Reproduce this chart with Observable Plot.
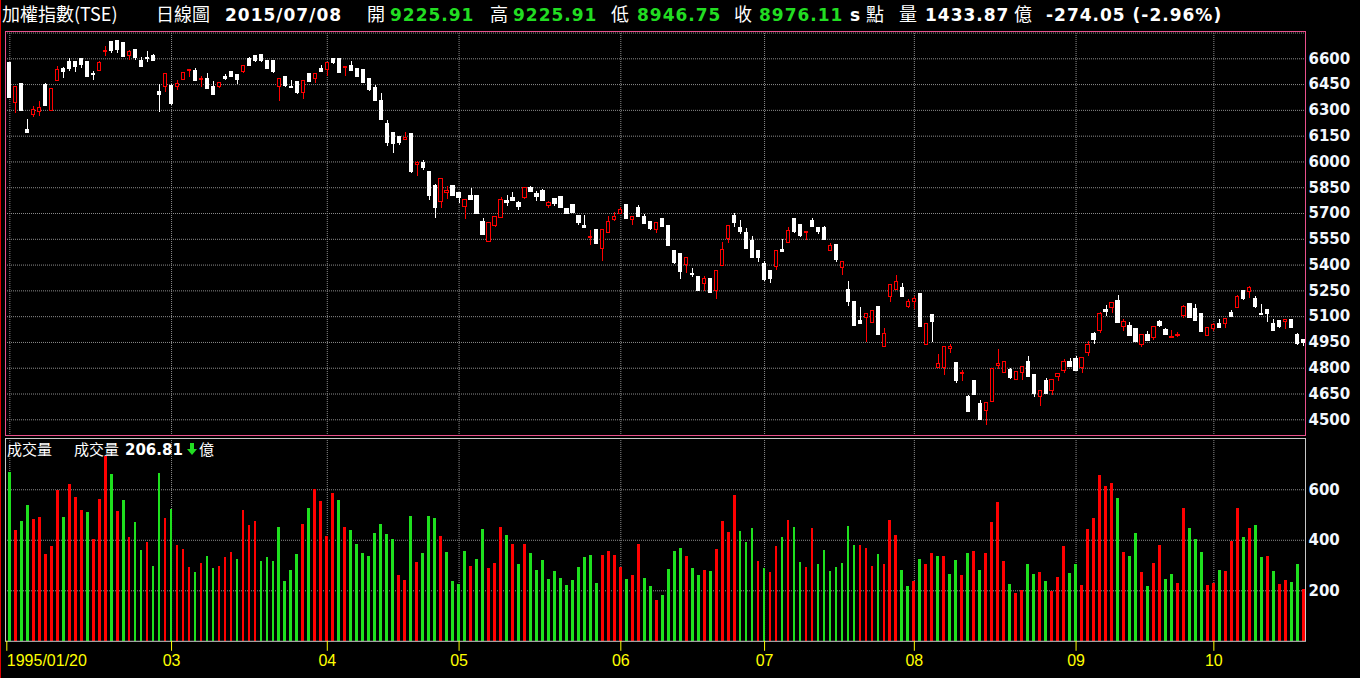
<!DOCTYPE html>
<html>
<head>
<meta charset="utf-8">
<script src="https://cdn.jsdelivr.net/npm/d3@7"></script>
<script src="https://cdn.jsdelivr.net/npm/@observablehq/plot@0.6"></script>
<style>
html,body{margin:0;padding:0;background:#000;width:1360px;height:678px;overflow:hidden;}
#wrap{position:relative;width:1360px;height:678px;background:#000;}
#wrap svg{position:absolute;left:0;}
#redline{position:absolute;left:0;top:0;width:1px;height:678px;background:#e00000;}
</style>
</head>
<body>
<div id="wrap"><div id="redline"></div></div>
<script>
// ---------------- DATA ----------------
const open = [6573,6343,6451,6184,6271,6288,6445,6296,6472,6540,6581,6579,6596,6579,6509,6528,6641,6695,6701,6689,6619,6654,6585,6604,6619,6405,6436,6439,6436,6476,6528,6530,6478,6482,6434,6436,6497,6521,6503,6521,6600,6619,6625,6585,6590,6436,6495,6436,6463,6403,6509,6482,6540,6534,
6600,6596,6548,6561,6538,6532,6480,6428,6352,6219,6167,6143,6130,6161,5985,5992,5940,5861,5768,5820,5859,5822,5739,5801,5801,5650,5536,5629,5675,5774,5789,5760,5791,5851,5816,5830,5745,5783,5795,5725,5749,5685,5627,5557,5603,5495,5588,5663,5700,5749,5661,5731,5681,5650,5607,5667,
5626,5481,5463,5403,5347,5333,5290,5321,5249,5393,5549,5684,5615,5585,5539,5481,5405,5368,5389,5490,5531,5671,5632,5587,5655,5615,5615,5481,5516,5383,5253,5183,5073,5094,5063,5154,4923,5215,5255,5265,5154,5185,5230,4935,5112,4801,4801,4912,4828,4766,4632,4723,4591,4554,4605,
4813,4772,4788,4731,4772,4834,4758,4633,4724,4670,4749,4784,4834,4851,4801,4886,4997,5016,5136,5149,5194,5039,5043,5026,4937,4991,4973,5070,5024,4975,4989,5101,5171,5142,5113,4987,5026,5060,5057,5120,5153,5252,5242,5200,5118,5136,5060,5072,5068,5078,4991,4966];
const high = [6580,6434,6451,6248,6323,6352,6455,6422,6555,6550,6600,6579,6600,6579,6526,6584,6672,6695,6701,6689,6648,6654,6610,6643,6625,6451,6509,6449,6472,6519,6532,6542,6496,6515,6468,6463,6509,6526,6503,6563,6608,6619,6625,6585,6590,6480,6495,6474,6468,6472,6509,6513,6563,6573,
6600,6596,6555,6585,6542,6532,6480,6447,6401,6242,6167,6143,6172,6161,6002,6010,5940,5867,5898,5857,5865,5822,5776,5847,5801,5673,5642,5677,5795,5803,5824,5772,5849,5859,5830,5841,5768,5789,5801,5731,5749,5685,5690,5603,5603,5603,5681,5706,5733,5749,5681,5749,5696,5650,5644,5667,
5626,5486,5463,5444,5382,5333,5335,5321,5364,5533,5630,5698,5661,5615,5568,5481,5422,5368,5484,5549,5618,5671,5632,5595,5671,5615,5626,5527,5516,5420,5306,5189,5154,5117,5135,5154,5032,5282,5341,5294,5201,5220,5230,5055,5112,4880,4921,4939,4834,4787,4642,4723,4612,4595,4793,
4907,4840,4797,4780,4809,4869,4764,4670,4741,4733,4768,4849,4857,4871,4861,4954,5008,5124,5165,5180,5223,5082,5066,5029,4995,5014,5041,5078,5029,5020,5008,5163,5171,5171,5113,5035,5058,5084,5089,5136,5221,5252,5275,5217,5173,5136,5082,5072,5082,5084,5002,4966];
const low = [6370,6279,6294,6168,6261,6265,6325,6296,6472,6488,6528,6519,6546,6492,6476,6528,6615,6633,6633,6608,6592,6592,6552,6581,6586,6285,6406,6329,6416,6476,6494,6470,6434,6426,6387,6430,6472,6492,6451,6517,6561,6581,6581,6538,6517,6354,6434,6430,6395,6366,6465,6459,6523,6499,
6567,6517,6499,6528,6494,6455,6412,6354,6244,6087,6052,6093,6122,5930,5913,5948,5774,5669,5727,5783,5803,5758,5663,5780,5698,5571,5536,5617,5675,5739,5774,5716,5783,5826,5772,5774,5727,5739,5733,5692,5702,5629,5617,5512,5524,5420,5588,5652,5700,5669,5629,5681,5640,5603,5586,5623,
5512,5405,5319,5349,5325,5249,5244,5238,5197,5393,5527,5616,5576,5494,5436,5413,5302,5290,5366,5477,5531,5582,5560,5541,5622,5576,5547,5477,5416,5337,5162,5046,5057,4947,5063,4993,4923,5180,5255,5215,5150,5141,5040,4935,4950,4801,4758,4884,4713,4723,4543,4644,4496,4467,4605,
4791,4772,4737,4731,4731,4749,4627,4580,4650,4639,4720,4772,4807,4782,4772,4871,4940,5004,5103,5116,5062,5016,4987,4952,4919,4958,4964,5037,4989,4975,4981,5087,5091,5074,5010,4987,5016,5033,5033,5097,5149,5194,5207,5149,5109,5066,5014,5031,5027,5033,4935,4929];
const close = [6372,6434,6294,6168,6300,6312,6325,6422,6532,6521,6540,6550,6563,6492,6503,6577,6648,6645,6650,6608,6639,6602,6552,6596,6586,6389,6509,6335,6451,6519,6532,6470,6484,6426,6387,6457,6480,6497,6474,6557,6561,6590,6585,6538,6523,6480,6439,6430,6399,6472,6465,6513,6523,6573,
6575,6517,6555,6528,6494,6459,6416,6354,6244,6110,6105,6110,6137,5942,5992,5965,5803,5731,5898,5830,5803,5791,5776,5780,5698,5574,5642,5677,5778,5762,5774,5739,5849,5826,5797,5774,5760,5754,5733,5700,5702,5646,5617,5565,5524,5603,5650,5679,5720,5669,5681,5681,5640,5609,5644,5623,
5512,5413,5360,5444,5341,5249,5317,5238,5364,5490,5630,5646,5593,5494,5440,5444,5314,5319,5484,5477,5601,5591,5570,5595,5622,5593,5547,5510,5428,5420,5185,5046,5057,5117,5135,4993,5001,5282,5300,5215,5183,5201,5040,5055,5069,4826,4921,4921,4723,4772,4548,4644,4496,4595,4793,
4826,4836,4741,4776,4809,4749,4650,4670,4650,4733,4768,4834,4807,4782,4861,4938,4962,5113,5130,5180,5062,5070,4987,4952,4995,4958,5041,5043,4993,4979,4995,5159,5091,5074,5010,5035,5049,5033,5089,5097,5217,5200,5264,5159,5109,5115,5014,5037,5082,5033,4940,4948];
const volume = [669,438,474,537,482,491,343,375,596,490,620,569,517,509,405,561,730,659,513,557,411,470,359,391,296,663,486,521,379,363,292,272,308,336,288,296,332,351,324,517,458,474,316,332,316,450,237,280,343,462,525,600,553,415,584,557,450,438,383,347,336,426,462,422,403,261,241,494,312,347,494,486,415,351,237,225,355,296,324,442,288,308,450,418,383,304,383,347,280,320,245,276,249,221,241,292,332,340,229,340,355,340,292,245,261,383,249,217,
162,182,284,355,367,336,288,261,280,276,363,474,430,576,434,391,446,316,288,272,375,411,478,450,312,292,446,304,359,276,292,308,454,379,379,367,296,343,304,478,418,280,217,237,324,304,347,336,336,265,320,261,347,355,280,347,470,549,316,225,190,201,304,265,272,237,197,253,375,268,304,221,442,486,655,612,624,565,351,336,426,272,217,308,379,245,265,229,525,446,403,351,221,229,280,276,395,525,411,446,458,332,336,276,225,241,233,304,207];
// 1 = volume bar red (index up), -1 = green (index down)
const volDir = [-1,1,-1,-1,1,1,1,1,1,-1, 1,1,1,-1,1,1,1,-1,1,-1, 1,-1,-1,1,-1,-1,1,-1,1,1, 1,-1,1,-1,-1,1,1,1,-1,1, 1,1,-1,-1,-1,-1,-1,-1,-1,1, -1,1,1,1,1,-1,1,-1,-1,-1, -1,-1,-1,-1,-1,1,1,-1,1,-1, -1,-1,1,-1,-1,-1,-1,1,-1,-1, 1,1,1,-1,1,-1,1,-1,-1,-1, -1,-1,-1,-1,-1,-1,-1,-1,-1,1,
1,1,1,-1,1,1,-1,-1, 1,-1,-1,-1,-1,1,-1,-1,1,-1, 1,1,1,1,-1,-1,-1,1,-1,1, 1,-1,1,-1,-1,1,1,-1,-1,-1, -1,-1,-1,-1,1,1,1,-1,1,1, 1,-1,-1,1,-1,1,1,-1,1,-1, -1,1,-1,1,-1,1,1,1,1,-1, 1,1,-1,-1,1,-1,1,1,1,-1, -1,1,1,1,1,1,1,-1,1,-1, -1,1,-1,1,1,-1,-1,1,1,-1, -1,-1,1,1,-1,1,1,1,-1,1, -1,-1,1,-1,1,1,-1,-1,1];
const monthIdx = [0,27,53,75,102,126,151,178,201];
const monthLabels = ["1995/01/20","03","04","05","06","07","08","09","10"];
const priceTicks = [4500,4650,4800,4950,5100,5250,5400,5550,5700,5850,6000,6150,6300,6450,6600];
const priceGrid = [...priceTicks, 6750];
const volTicks = [200,400,600];
const headerItems = [
  {t:"加權指數(TSE)", k:"cjk"}, {t:"日線圖", k:"cjk"}, {t:"2015/07/08", k:"num"},
  {t:"開", k:"cjk"}, {t:"9225.91", k:"grn"}, {t:"高", k:"cjk"}, {t:"9225.91", k:"grn"},
  {t:"低", k:"cjk"}, {t:"8946.75", k:"grn"}, {t:"收", k:"cjk"}, {t:"8976.11", k:"grn"},
  {t:"s", k:"num"}, {t:"點", k:"cjk"}, {t:"量", k:"cjk"}, {t:"1433.87", k:"num"},
  {t:"億", k:"cjk"}, {t:"-274.05 (-2.96%)", k:"num"}
];
const volTitle = ["成交量", "成交量", "206.81", "億"];

// ---------------- STYLE ----------------
const RED = "#ff0000", GREEN = "#1ee01e", PINK = "#e8508c", GRID = "#8c8c8c";
const NUMFONT = "'DejaVu Sans', Verdana, sans-serif";
const CJKFONT = "'Noto Sans CJK TC', 'Noto Sans CJK SC', sans-serif";
const N = open.length;
const candles = d3.range(N).map(i => ({i, o: open[i], h: high[i], l: low[i], c: close[i], up: close[i] >= open[i]}));
const vols = d3.range(N).map(i => ({i, v: volume[i], d: volDir[i]}));
const xDomain = [-0.72, N - 0.7];
const gridOpts = {stroke: GRID, strokeOpacity: 1, strokeDasharray: "1,1"};

const wrap = document.getElementById("wrap");

const price = Plot.plot({
  width: 1360, height: 440,
  marginLeft: 5, marginRight: 55, marginTop: 31, marginBottom: 5,
  x: {domain: xDomain, axis: null},
  y: {domain: [4408.7, 6758.8], axis: null},
  style: {background: "transparent", color: "white", overflow: "visible", maxWidth: "none"},
  marks: [
    Plot.gridX(monthIdx, gridOpts),
    Plot.gridY(priceGrid, gridOpts),
    Plot.ruleX(candles, {x: "i", y1: "l", y2: "h", stroke: d => d.up ? RED : "#ffffff", shapeRendering: "crispEdges"}),
    Plot.rect(candles, {x1: d => d.i - 0.27, x2: d => d.i + 0.27, y1: "o", y2: "c",
      fill: d => d.up ? "#000000" : "#ffffff", stroke: d => d.up ? RED : "#ffffff", shapeRendering: "crispEdges"}),
    Plot.axisY(priceTicks, {anchor: "right", label: null, tickSize: 0, tickPadding: 3, fontSize: 15, fontWeight: "bold",
      fontFamily: NUMFONT, fill: "#f2f8ff", tickFormat: d => String(d)}),
    Plot.frame({stroke: PINK})
  ]
});
price.style.top = "0px";
wrap.appendChild(price);

const vol = Plot.plot({
  width: 1360, height: 240,
  marginLeft: 5, marginRight: 55, marginTop: 0, marginBottom: 37.2,
  x: {domain: xDomain, axis: null},
  y: {domain: [0, 803], axis: null},
  style: {background: "transparent", color: "white", overflow: "visible", maxWidth: "none"},
  marks: [
    Plot.gridX(monthIdx, gridOpts),
    Plot.gridY(volTicks, gridOpts),
    Plot.rect(vols, {x1: d => d.i - 0.23, x2: d => d.i + 0.23, y1: 0, y2: "v",
      fill: d => d.d > 0 ? RED : GREEN, shapeRendering: "crispEdges"}),
    Plot.axisY(volTicks, {anchor: "right", label: null, tickSize: 0, tickPadding: 3, fontSize: 15, fontWeight: "bold",
      fontFamily: NUMFONT, fill: "#f2f8ff", tickFormat: d => String(d)}),
    Plot.frame({stroke: "#c8c8c8"}),
    Plot.axisX(monthIdx.slice(1), {anchor: "bottom", label: null, tickSize: 10, tickPadding: 3, stroke: "#ffff00", fill: "#ffff00",
      fontSize: 16, fontFamily: "'Liberation Sans', Arial, sans-serif",
      tickFormat: d => monthLabels[monthIdx.indexOf(d)]}),
    Plot.axisX(monthIdx.slice(0, 1), {anchor: "bottom", label: null, tickSize: 10, tickPadding: 3, stroke: "#ffff00", fill: "#ffff00",
      fontSize: 16, fontFamily: "'Liberation Sans', Arial, sans-serif", textAnchor: "start", dx: -3,
      tickFormat: d => monthLabels[monthIdx.indexOf(d)]})
  ]
});
vol.style.top = "438px";
wrap.appendChild(vol);

// ---------------- HEADER & PANEL TITLE ----------------
const hdr = d3.select(wrap).append("svg")
  .attr("width", 1360).attr("height", 30).style("top", "0px").style("left", "0px");
const hdrX = [2, 156, 225, 367, 390, 490, 513, 611, 637, 734, 759, 850, 866, 899, 925, 1014, 1046];
headerItems.forEach((h, j) => {
  const t = hdr.append("text").attr("x", hdrX[j]).attr("y", 21).text(h.t);
  if (h.k === "cjk") t.attr("fill", "#ffffff").attr("font-family", CJKFONT).attr("font-size", 18);
  else t.attr("fill", h.k === "grn" ? "#22dd22" : "#ffffff").attr("font-family", NUMFONT)
        .attr("font-weight", "bold").attr("font-size", 17).attr("letter-spacing", 1);
});

const vt = d3.select(wrap).append("svg")
  .attr("width", 300).attr("height", 30).style("top", "436px").style("left", "0px");
const vtX = [7, 74, 125, 199];
volTitle.forEach((s, j) => {
  const t = vt.append("text").attr("x", vtX[j]).attr("y", 19).text(s);
  if (j === 2) t.attr("fill", "#ffffff").attr("font-family", NUMFONT).attr("font-weight", "bold").attr("font-size", 15);
  else t.attr("fill", "#ffffff").attr("font-family", CJKFONT).attr("font-size", 15);
});
// down arrow (volume decreased)
vt.append("path").attr("d", "M190,7 h4 v6 h3 l-5,6 l-5,-6 h3 z").attr("fill", "#22dd22");
</script>
</body>
</html>
